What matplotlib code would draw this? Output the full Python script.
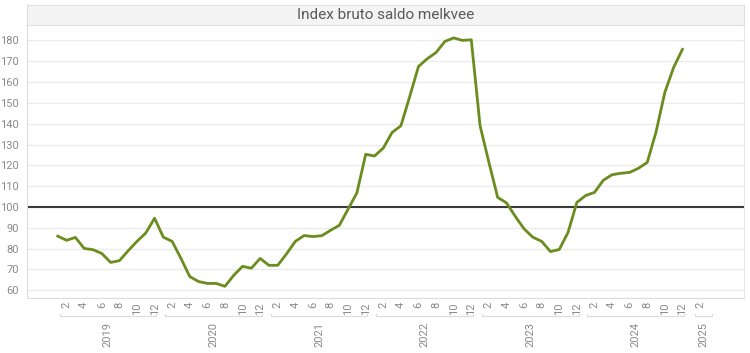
import matplotlib
matplotlib.use("Agg")
from matplotlib import pyplot as plt
from matplotlib.transforms import blended_transform_factory
from matplotlib.patches import Rectangle

# monthly index, jan 2019 .. dec 2024
values_2019 = [86, 84, 85.4, 80.1, 79.5, 77.7, 73.4, 74.2, 79, 83.5, 87.5, 94.6]
values_2020 = [85.5, 83.5, 75.3, 66.6, 64.2, 63.3, 63.3, 61.9, 67.2, 71.5, 70.6, 75.3]
values_2021 = [72, 72, 77.5, 83.5, 86.3, 85.8, 86.2, 88.8, 91.2, 99, 106.8, 125.3]
values_2022 = [124.5, 128.3, 135.8, 139, 153, 167.5, 171.2, 174.2, 179.5, 181.2, 180, 180.3]
values_2023 = [139, 121.5, 104.6, 102, 95.5, 89.5, 85.5, 83.5, 78.6, 79.6, 87.8, 102.2]
values_2024 = [105.5, 107, 112.8, 115.5, 116.2, 116.6, 118.6, 121.4, 136, 155, 167, 175.7]
values = values_2019 + values_2020 + values_2021 + values_2022 + values_2023 + values_2024

years = [2019, 2020, 2021, 2022, 2023, 2024, 2025]
months_in_year = [12, 12, 12, 12, 12, 12, 3]
y_ticks = list(range(60, 190, 10))
reference_level = 100
title = "Index bruto saldo melkvee"

line_color = "#6b8c1e"
text_color = "#8a8a8a"
plt.rcParams['font.family'] = ['Roboto', 'DejaVu Sans']

fig = plt.figure(figsize=(7.5, 3.53), dpi=100)
ax = fig.add_axes([27 / 750, 1 - 298 / 353, 717 / 750, 273 / 353])

x = list(range(len(values)))
ax.plot(x, values, color=line_color, linewidth=2.0, solid_joinstyle='round', zorder=3)
ax.axhline(reference_level, color="#3a3a3a", linewidth=1.5, zorder=2)

ax.set_xlim(-3.5, 78)
ax.set_ylim(56.3, 187.4)
ax.set_yticks(y_ticks)
ax.yaxis.grid(True, color="#ebebeb", linewidth=1.0)
ax.set_axisbelow(True)
ax.tick_params(axis='y', length=0, pad=6, labelsize=8, labelcolor=text_color)

# month ticks (even months) and year brackets
tick_pos, tick_lab = [], []
start = 0
trans = blended_transform_factory(ax.transData, ax.transAxes)
for yr, n in zip(years, months_in_year):
    for m in range(1, n + 1):
        if m % 2 == 0:
            tick_pos.append(start + m - 1)
            tick_lab.append(str(m))
    x0, x1 = start + 0.2, start + n - 1 + 0.2
    if yr == 2025:
        x0, x1 = start + 0.4, start + n - 0.6
    ax.plot([x0, x0, x1, x1], [-0.058, -0.066, -0.066, -0.058], color="#dddddd",
            linewidth=0.9, transform=trans, clip_on=False)
    ax.text((x0 + x1) / 2, -0.088, str(yr), rotation=90, ha='center', va='top',
            fontsize=8, color=text_color, transform=trans)
    start += n

ax.set_xticks(tick_pos)
ax.set_xticklabels(tick_lab, rotation=90, fontsize=8, color=text_color)
ax.tick_params(axis='x', length=0, pad=3)

for side in ['top', 'right']:
    ax.spines[side].set_color("#e4e4e4")
for side in ['left', 'bottom']:
    ax.spines[side].set_color("#dcdcdc")

# title band
tax = fig.add_axes([27 / 750, 1 - 25 / 353, 717 / 750, 20 / 353])
tax.set_facecolor("#f4f4f4")
tax.set_xticks([])
tax.set_yticks([])
for s in tax.spines.values():
    s.set_color("#e0e0e0")
tax.text(0.5, 0.5, title, ha='center', va='center', fontsize=11, color="#5a5a5a",
         transform=tax.transAxes)

fig.savefig("out.png", dpi=100)
